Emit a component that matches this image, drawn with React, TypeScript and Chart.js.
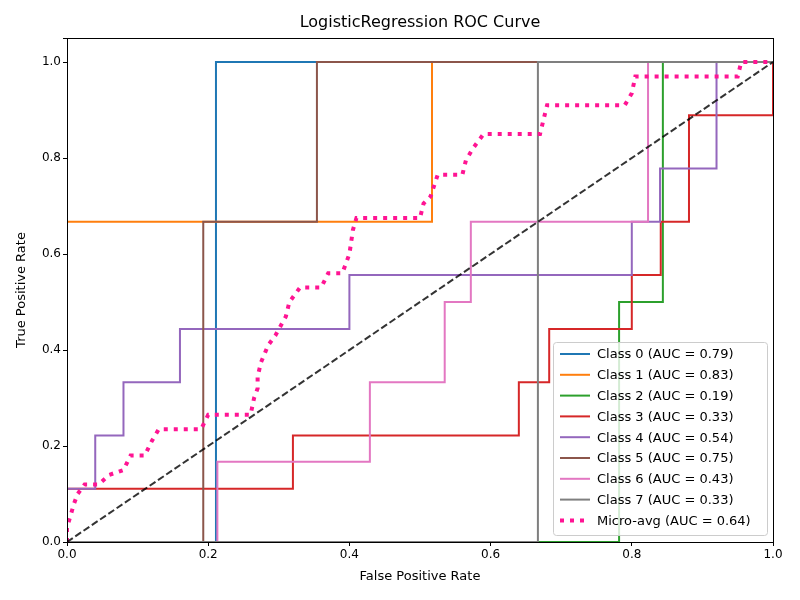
import { useRef, useEffect } from "react";
import { Chart, registerables } from "chart.js";

Chart.register(...registerables);

const FONT = '"DejaVu Sans", sans-serif';

const LABELS = [
  "Class 0 (AUC = 0.79)", "Class 1 (AUC = 0.83)", "Class 2 (AUC = 0.19)", "Class 3 (AUC = 0.33)",
  "Class 4 (AUC = 0.54)", "Class 5 (AUC = 0.75)", "Class 6 (AUC = 0.43)", "Class 7 (AUC = 0.33)",
];
const COLORS = ["#1f77b4", "#ff7f0e", "#2ca02c", "#d62728", "#9467bd", "#8c564b", "#e377c2", "#7f7f7f"];

// ROC curves as [fpr, tpr] corner points
const CLASS_CURVES: number[][][] = [
  [[0, 0], [0.211, 0], [0.211, 1], [1, 1]],
  [[0, 0], [0, 0.667], [0.517, 0.667], [0.517, 1], [1, 1]],
  [[0, 0], [0.782, 0], [0.782, 0.5], [0.844, 0.5], [0.844, 1], [1, 1]],
  [[0, 0], [0, 0.111], [0.32, 0.111], [0.32, 0.222], [0.64, 0.222], [0.64, 0.333], [0.683, 0.333], [0.683, 0.444],
   [0.8, 0.444], [0.8, 0.556], [0.841, 0.556], [0.841, 0.667], [0.881, 0.667], [0.881, 0.889], [1, 0.889], [1, 1]],
  [[0, 0], [0, 0.111], [0.04, 0.111], [0.04, 0.222], [0.08, 0.222], [0.08, 0.333], [0.16, 0.333], [0.16, 0.444],
   [0.4, 0.444], [0.4, 0.556], [0.8, 0.556], [0.8, 0.667], [0.84, 0.667], [0.84, 0.778], [0.92, 0.778], [0.92, 1], [1, 1]],
  [[0, 0], [0.193, 0], [0.193, 0.667], [0.354, 0.667], [0.354, 1], [1, 1]],
  [[0, 0], [0.213, 0], [0.213, 0.167], [0.429, 0.167], [0.429, 0.333], [0.535, 0.333], [0.535, 0.5], [0.572, 0.5],
   [0.572, 0.667], [0.823, 0.667], [0.823, 1], [1, 1]],
  [[0, 0], [0.667, 0], [0.667, 1], [1, 1]],
];

const MICRO: number[][] = [
  [0, 0], [0, 0.03], [0.005, 0.055], [0.01, 0.08], [0.015, 0.1], [0.025, 0.12], [0.045, 0.12], [0.06, 0.14],
  [0.08, 0.15], [0.09, 0.18], [0.11, 0.18], [0.12, 0.21], [0.13, 0.235], [0.19, 0.235], [0.2, 0.265], [0.26, 0.265],
  [0.265, 0.3], [0.27, 0.32], [0.27, 0.345], [0.275, 0.375], [0.285, 0.41], [0.295, 0.43], [0.31, 0.47], [0.315, 0.5],
  [0.33, 0.53], [0.36, 0.53], [0.37, 0.56], [0.39, 0.56], [0.4, 0.6], [0.405, 0.65], [0.41, 0.675], [0.5, 0.675],
  [0.505, 0.705], [0.515, 0.72], [0.525, 0.765], [0.56, 0.765], [0.565, 0.795], [0.575, 0.82], [0.59, 0.85],
  [0.67, 0.85], [0.675, 0.88], [0.68, 0.91], [0.79, 0.91], [0.8, 0.935], [0.805, 0.97], [0.95, 0.97], [0.955, 1], [1, 1],
];

const pts = (a: number[][]) => a.map(([x, y]) => ({ x, y }));

const frameAndLegend = {
  id: "frameAndLegend",
  afterDraw(chart: any) {
    const { ctx, chartArea: a } = chart;
    ctx.save();
    ctx.strokeStyle = "#000";
    ctx.lineWidth = 1;
    ctx.strokeRect(a.left + 0.5, a.top + 0.5, a.right - a.left, a.bottom - a.top);
    ctx.fillStyle = "#000";
    ctx.font = `16px ${FONT}`;
    ctx.textAlign = "center";
    ctx.textBaseline = "middle";
    ctx.fillText("LogisticRegression ROC Curve", (a.left + a.right) / 2, 23);

    // legend box
    const bx = 553, by = 342, bw = 214, bh = 193;
    ctx.fillStyle = "rgba(255,255,255,0.8)";
    ctx.strokeStyle = "#cccccc";
    ctx.beginPath();
    ctx.roundRect(bx + 0.5, by + 0.5, bw, bh, 3);
    ctx.fill();
    ctx.stroke();
    ctx.font = `13px ${FONT}`;
    ctx.textAlign = "left";
    const items = [...LABELS.map((l, i) => ({ l, c: COLORS[i], dot: false })), { l: "Micro-avg (AUC = 0.64)", c: "#ff1493", dot: true }];
    items.forEach((it, i) => {
      const y = by + 12 + i * 20.8;
      ctx.strokeStyle = it.c;
      ctx.lineWidth = it.dot ? 4 : 2;
      ctx.setLineDash(it.dot ? [4, 6] : []);
      ctx.beginPath();
      ctx.moveTo(560, y);
      ctx.lineTo(590, y);
      ctx.stroke();
      ctx.setLineDash([]);
      ctx.fillStyle = "#000";
      ctx.fillText(it.l, 597, y + 1);
    });
    ctx.restore();
  },
};

export default function App() {
  const ref = useRef<HTMLCanvasElement>(null);

  useEffect(() => {
    document.body.style.margin = "0";
    if (!ref.current) return;
    const datasets: any[] = CLASS_CURVES.map((c, i) => ({
      label: LABELS[i],
      data: pts(c),
      borderColor: COLORS[i],
      borderWidth: 2,
      pointRadius: 0,
      showLine: true,
      fill: false,
      order: 100 - i,
    }));
    datasets.push({
      label: "Micro-avg",
      data: pts(MICRO),
      borderColor: "#ff1493",
      borderWidth: 4,
      borderDash: [4, 6],
      pointRadius: 0,
      showLine: true,
      order: 50,
    });
    datasets.push({
      label: "chance",
      data: pts([[0, 0], [1, 1]]),
      borderColor: "rgba(0,0,0,0.8)",
      borderWidth: 2,
      borderDash: [7, 3],
      pointRadius: 0,
      showLine: true,
      order: 0,
    });
    const tickFont = { family: FONT, size: 12 };
    const chart = new Chart(ref.current, {
      type: "scatter",
      data: { datasets },
      options: {
        animation: false,
        responsive: false,
        layout: { padding: { top: 38, right: 27, left: 10, bottom: 12 } },
        plugins: { legend: { display: false }, tooltip: { enabled: false } },
        scales: {
          x: {
            min: 0, max: 1,
            ticks: { stepSize: 0.2, color: "#000", font: tickFont, callback: (v: any) => Number(v).toFixed(1), padding: 2 },
            grid: { drawOnChartArea: false, tickLength: 4, color: "#000" },
            border: { color: "#000" },
            title: { display: true, text: "False Positive Rate", color: "#000", font: { family: FONT, size: 13 }, padding: { top: 2 } },
            afterFit: (s: any) => { s.height = 46; },
          },
          y: {
            min: 0, max: 1.05,
            ticks: { stepSize: 0.2, color: "#000", font: tickFont, callback: (v: any) => (Number(v) > 1.01 ? "" : Number(v).toFixed(1)), padding: 2 },
            grid: { drawOnChartArea: false, tickLength: 4, color: "#000" },
            border: { color: "#000" },
            title: { display: true, text: "True Positive Rate", color: "#000", font: { family: FONT, size: 13 } },
            afterFit: (s: any) => { s.width = 57; },
          },
        },
      } as any,
      plugins: [frameAndLegend],
    });
    return () => { chart.destroy(); };
  }, []);

  return <canvas ref={ref} width={800} height={600} style={{ display: "block" }} />;
}
